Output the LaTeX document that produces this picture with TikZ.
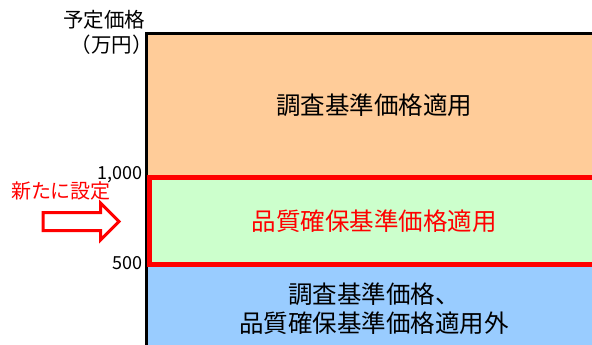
\documentclass[tikz,border=0pt]{standalone}
\usepackage{fontspec}
\setmainfont{Noto Sans CJK JP}
\usetikzlibrary{shapes.arrows}

\definecolor{bandorange}{HTML}{FFCC99}
\definecolor{bandgreen}{HTML}{CCFFCC}
\definecolor{bandblue}{HTML}{99CCFF}

\begin{document}
\begin{tikzpicture}[x=1pt, y=-1pt, font=\fontsize{24.5}{29}\selectfont,
		band/.style={rectangle, anchor=north west, inner sep=0pt, minimum width=452pt, align=center},
		tick/.style={anchor=east, inner sep=0pt, font=\fontsize{18}{20}\selectfont},
		label/.style={inner sep=0pt, font=\fontsize{20.5}{24}\selectfont}]
		\useasboundingbox (0,0) rectangle (592,345);
		
		\node[band, fill=bandorange, minimum height=144pt] (upper) at (148, 33.5) {調査基準価格適用};
		\node[band, fill=bandgreen, minimum height=86.5pt, text=red] (middle) at (148, 177.5) {品質確保基準価格適用};
		\node[band, fill=bandblue, minimum height=88pt] (lower) at (148, 264) {調査基準価格、\\品質確保基準価格適用外};
		
		\coordinate (axistop) at (146.5, 32);
		\coordinate (axisbottom) at (146.5, 352);
		\draw[line width=3pt] (axistop) -- (axisbottom);
		\draw[line width=3pt] (upper.north west) -- (upper.north east);
		\draw[red, line width=5pt] (149, 177.5) rectangle (606, 264);
		
		\node[label] (title) at (104, 20) {予定価格};
		\node[label] (unit) at (111.5, 45) {（万円）};
		\node[tick] (t1000) at (143, 175) {1,000};
		\node[tick] (t500) at (143, 263) {500};
		
		\node[label, text=red, font=\fontsize{20}{24}\selectfont] (new) at (61, 191) {新たに設定};
		\node[single arrow, draw=red, fill=white, line width=3pt, inner xsep=0pt, inner ysep=7.5pt,
			minimum height=76pt, minimum width=0pt, single arrow head extend=9.5pt,
			single arrow tip angle=90] (arrow) at (76.5, 221.5) {};
	\end{tikzpicture}
\end{document}
